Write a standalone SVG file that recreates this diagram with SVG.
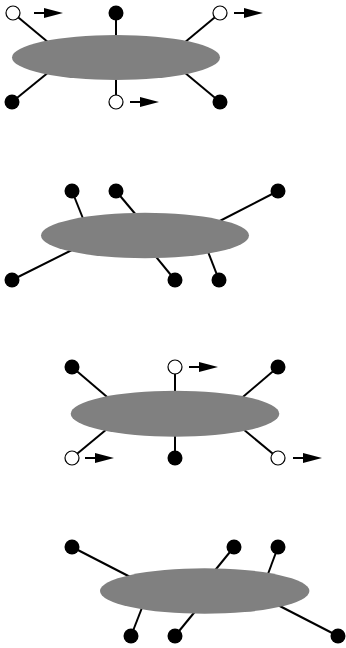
<svg xmlns="http://www.w3.org/2000/svg" width="346" height="648" viewBox="0 0 346 648">
<style>
.ln{stroke:#000;stroke-width:2;fill:none}
.body{fill:#808080}
.f{fill:#000}
.o{fill:#fff;stroke:#000;stroke-width:1.2}
.ar{stroke:#000;stroke-width:2}
.ah{fill:#000}
</style>
<defs>
<g id="arrow"><line class="ar" x1="0" y1="0" x2="12" y2="0"/><polygon class="ah" points="10,-5 29,0 10,5"/></g>
</defs>
<rect width="346" height="648" fill="#fff"/>
<g id="connectors">
<line class="ln" x1="13" y1="13" x2="55" y2="48"/>
<line class="ln" x1="116" y1="13" x2="116" y2="45"/>
<line class="ln" x1="220" y1="13" x2="178" y2="48"/>
<line class="ln" x1="12" y1="102" x2="55" y2="67"/>
<line class="ln" x1="116" y1="102" x2="116" y2="70"/>
<line class="ln" x1="220" y1="102" x2="178" y2="67"/>

<line class="ln" x1="72" y1="191" x2="86" y2="226"/>
<line class="ln" x1="116" y1="191" x2="142" y2="222"/>
<line class="ln" x1="278" y1="191" x2="210" y2="226"/>
<line class="ln" x1="12" y1="280" x2="80" y2="246"/>
<line class="ln" x1="175" y1="280" x2="148" y2="247"/>
<line class="ln" x1="219" y1="280" x2="205" y2="244"/>

<line class="ln" x1="72" y1="367" x2="113" y2="402"/>
<line class="ln" x1="175" y1="367" x2="175" y2="400"/>
<line class="ln" x1="278" y1="367" x2="237" y2="402"/>
<line class="ln" x1="72" y1="458" x2="113" y2="424"/>
<line class="ln" x1="175" y1="458" x2="175" y2="428"/>
<line class="ln" x1="278" y1="458" x2="237" y2="424"/>

<line class="ln" x1="72" y1="547" x2="140" y2="582"/>
<line class="ln" x1="234" y1="547" x2="208" y2="579"/>
<line class="ln" x1="278" y1="547" x2="265" y2="582"/>
<line class="ln" x1="131" y1="636" x2="145" y2="600"/>
<line class="ln" x1="175" y1="636" x2="202" y2="603"/>
<line class="ln" x1="338" y1="636" x2="270" y2="601"/>
</g>
<g id="body1"><ellipse class="body" cx="116" cy="57.5" rx="104" ry="22.5"/></g>
<g id="body2"><ellipse class="body" cx="145" cy="235.5" rx="104" ry="22.8"/></g>
<g id="body3"><ellipse class="body" cx="175" cy="413.7" rx="104.3" ry="23"/></g>
<g id="body4"><ellipse class="body" cx="204.7" cy="591" rx="104.7" ry="22.8"/></g>

<g id="p1-tl"><circle class="o" cx="13" cy="13" r="7"/><use href="#arrow" x="34" y="13"/></g>
<g id="p1-tm"><circle class="f" cx="116" cy="13" r="7.5"/></g>
<g id="p1-tr"><circle class="o" cx="220" cy="13" r="7"/><use href="#arrow" x="234" y="13"/></g>
<g id="p1-bl"><circle class="f" cx="12" cy="102" r="7.5"/></g>
<g id="p1-bm"><circle class="o" cx="116" cy="102" r="7"/><use href="#arrow" x="130" y="102"/></g>
<g id="p1-br"><circle class="f" cx="220" cy="102" r="7.5"/></g>

<g id="p2-t1"><circle class="f" cx="72" cy="191" r="7.5"/></g>
<g id="p2-t2"><circle class="f" cx="116" cy="191" r="7.5"/></g>
<g id="p2-t3"><circle class="f" cx="278" cy="191" r="7.5"/></g>
<g id="p2-b1"><circle class="f" cx="12" cy="280" r="7.5"/></g>
<g id="p2-b2"><circle class="f" cx="175" cy="280" r="7.5"/></g>
<g id="p2-b3"><circle class="f" cx="219" cy="280" r="7.5"/></g>

<g id="p3-tl"><circle class="f" cx="72" cy="367" r="7.5"/></g>
<g id="p3-tm"><circle class="o" cx="175" cy="367" r="7"/><use href="#arrow" x="189" y="367"/></g>
<g id="p3-tr"><circle class="f" cx="278" cy="367" r="7.5"/></g>
<g id="p3-bl"><circle class="o" cx="72" cy="458" r="7"/><use href="#arrow" x="85" y="458"/></g>
<g id="p3-bm"><circle class="f" cx="175" cy="458" r="7.5"/></g>
<g id="p3-br"><circle class="o" cx="278" cy="458" r="7"/><use href="#arrow" x="293" y="458"/></g>

<g id="p4-t1"><circle class="f" cx="72" cy="547" r="7.5"/></g>
<g id="p4-t2"><circle class="f" cx="234" cy="547" r="7.5"/></g>
<g id="p4-t3"><circle class="f" cx="278" cy="547" r="7.5"/></g>
<g id="p4-b1"><circle class="f" cx="131" cy="636" r="7.5"/></g>
<g id="p4-b2"><circle class="f" cx="175" cy="636" r="7.5"/></g>
<g id="p4-b3"><circle class="f" cx="338" cy="636" r="7.5"/></g>
</svg>
